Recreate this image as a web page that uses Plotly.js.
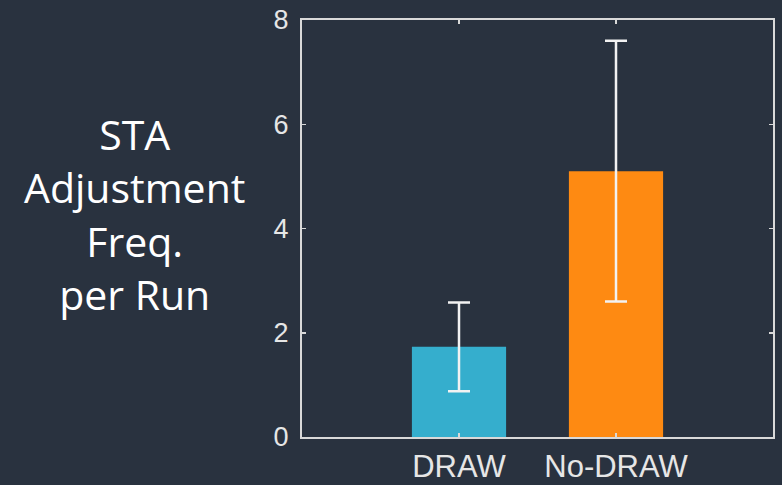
<!DOCTYPE html>
<html>
<head>
<meta charset="utf-8">
<script src="https://cdn.plot.ly/plotly-3.0.1.min.js"></script>
<style>html,body{margin:0;padding:0;background:#29323f;}#chart{width:782px;height:485px;}</style>
</head>
<body>
<div id="chart"></div>
<script>
const categories = ["DRAW", "No-DRAW"];
const means = [1.73, 5.10];
const errors = [0.85, 2.5];
const barColors = ["#35aecd", "#fe8a12"];
const yTickVals = [0, 2, 4, 6, 8];
const yTitleLines = ["STA", "Adjustment", "Freq.", "per Run"];

const axisColor = "#d9d9d9";
const trace = {
  type: "bar",
  x: categories,
  y: means,
  width: 0.6,
  marker: {color: barColors, line: {width: 0}},
  error_y: {type: "data", array: errors, visible: true, color: "#f2f2f2", thickness: 2.5, width: 11}
};

const layout = {
  width: 782, height: 485,
  paper_bgcolor: "#29323f",
  plot_bgcolor: "#29323f",
  margin: {l: 302, r: 9, t: 20, b: 48},
  showlegend: false,
  font: {family: "Liberation Sans, Arial, sans-serif", color: "#e6e6e6", size: 27},
  xaxis: {
    type: "category",
    range: [-1, 2],
    showline: true, linecolor: axisColor, linewidth: 2, mirror: "ticks",
    ticks: "inside", ticklen: 4, tickcolor: axisColor, tickwidth: 1.5,
    showgrid: false, zeroline: false,
    ticklabelstandoff: 1,
    tickfont: {size: 31, color: "#e6e6e6"}
  },
  yaxis: {
    range: [0, 8],
    tickvals: yTickVals,
    showline: true, linecolor: axisColor, linewidth: 2, mirror: "ticks",
    ticks: "inside", ticklen: 4, tickcolor: axisColor, tickwidth: 1.5,
    showgrid: false, zeroline: false,
    ticklabelstandoff: 6,
    tickfont: {size: 27, color: "#e6e6e6"}
  },
  annotations: [{
    text: yTitleLines.join("<br>"),
    xref: "paper", yref: "paper",
    x: -0.355, y: 0.535,
    xanchor: "center", yanchor: "middle",
    showarrow: false, align: "center",
    font: {family: "Open Sans, Noto Sans, sans-serif", size: 41, color: "#ffffff"}
  }]
};

Plotly.newPlot("chart", [trace], layout, {displayModeBar: false, staticPlot: true});
</script>
</body>
</html>
